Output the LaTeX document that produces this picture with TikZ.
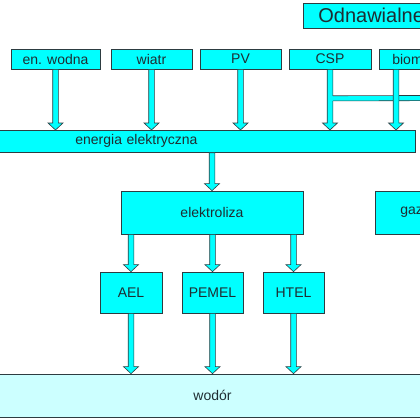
\documentclass[tikz,border=0pt]{standalone}
\usepackage{fontspec}
\setmainfont{Liberation Sans}
\usetikzlibrary{calc}
\definecolor{cy}{RGB}{0,255,255}
\definecolor{lcy}{RGB}{204,255,255}
\definecolor{txt}{RGB}{30,45,50}
\definecolor{edge}{RGB}{45,60,65}
\newcommand\blockarr[2]{\path[barrow] let \p1=#1, \p2=#2 in
  (\x1-2.8pt,\y1) -- (\x1-2.8pt,\y2+7pt) -- (\x1-7.5pt,\y2+7pt) -- (\x1,\y2)
  -- (\x1+7.5pt,\y2+7pt) -- (\x1+2.8pt,\y2+7pt) -- (\x1+2.8pt,\y1) -- cycle;}
\begin{document}
\begin{tikzpicture}[x=1pt,y=-1pt,
  box/.style={draw=edge, line width=0.7pt, fill=cy, inner sep=0pt, text=txt, font=\fontsize{14}{16}\selectfont},
  barrow/.style={draw=edge, line width=0.6pt, fill=cy, line join=miter}]
\useasboundingbox (0,0) rectangle (420,420);
\fill[white] (0,0) rectangle (420,420);
\clip (0,0) rectangle (420,420);

\node[box, anchor=north west, minimum height=25pt, inner xsep=15pt, text width=150pt, align=left, font=\fontsize{20}{22}\selectfont] (odn) at (303,3) {Odnawialne};

\node[box, minimum width=89pt, minimum height=20pt] (wod) at (55.5,59) {en. wodna};
\node[box, minimum width=81pt, minimum height=20pt] (wia) at (151.5,59) {wiatr};
\node[box, minimum width=81pt, minimum height=20pt] (pv) at (240.5,59) {PV};
\node[box, minimum width=82pt, minimum height=20pt] (csp) at (330,59) {CSP};
\node[box, anchor=west, minimum height=20pt, inner xsep=13pt, text width=60pt, align=left] (bio) at (379,59) {biom};

\node[box, anchor=north west, minimum height=22pt, inner xsep=80pt, text width=260pt, align=left] (ee) at (-5,130) {energia elektryczna};

\node[box, minimum width=182pt, minimum height=43pt] (el) at (212,212.5) {elektroliza};
\node[box, anchor=west, minimum height=43pt, inner xsep=25pt, text width=60pt, align=left] (gaz) at (375,212.5) {gaz};

\node[box, minimum width=62pt, minimum height=41pt] (ael) at (131,292.5) {AEL};
\node[box, minimum width=61pt, minimum height=41pt] (pem) at (212.5,292.5) {PEMEL};
\node[box, minimum width=61pt, minimum height=41pt] (htel) at (293.5,292.5) {HTEL};

\node[box, fill=lcy, minimum width=435pt, minimum height=43pt] (h2) at (212.5,395.5) {wodór};

\blockarr{(wod.south)}{(wod.south |- ee.north)}
\blockarr{(wia.south)}{(wia.south |- ee.north)}
\blockarr{(pv.south)}{(pv.south |- ee.north)}
\blockarr{(csp.south)}{(csp.south |- ee.north)}

% band from the CSP shaft to the right
\coordinate (bandstart) at ([xshift=2.8pt]$(csp.south)+(0,29)$);
\coordinate (bandend) at (440,98);
\fill[cy] ([xshift=-0.5pt]$(bandstart)+(0,-2.6)$) rectangle ($(bandend)+(0,2.6)$);
\draw[edge, line width=0.6pt] ($(bandstart)+(0,-2.6)$) -- ($(bandend)+(0,-2.6)$)
  ($(bandstart)+(0,2.6)$) -- ($(bandend)+(0,2.6)$);

\coordinate (bioa) at ([xshift=17pt]bio.south west);
\blockarr{(bioa)}{(bioa |- ee.north)}
\blockarr{(ee.south -| el.north)}{(el.north)}
\blockarr{(el.south -| ael.north)}{(ael.north)}
\blockarr{(el.south -| pem.north)}{(pem.north)}
\blockarr{(el.south -| htel.north)}{(htel.north)}
\blockarr{(ael.south)}{(ael.south |- h2.north)}
\blockarr{(pem.south)}{(pem.south |- h2.north)}
\blockarr{(htel.south)}{(htel.south |- h2.north)}
\end{tikzpicture}
\end{document}
